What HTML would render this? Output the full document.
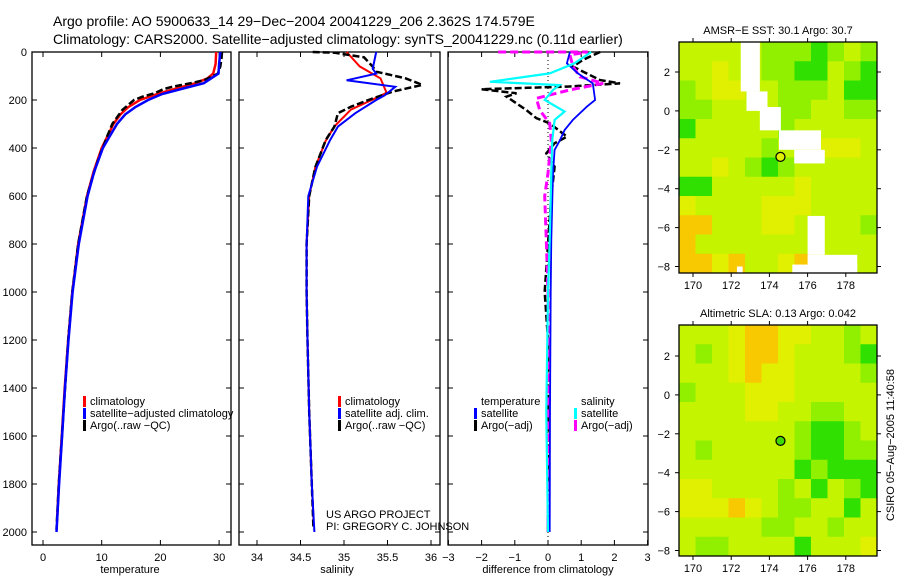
<!DOCTYPE html>
<html><head><meta charset="utf-8"><style>
body{margin:0;background:#fff;}
svg text{font-family:"Liberation Sans",sans-serif;fill:#000;}
</style></head><body>
<svg id="c" width="900" height="580" viewBox="0 0 900 580" xmlns="http://www.w3.org/2000/svg">
<text x="53" y="26" font-size="14">Argo profile: AO 5900633_14 29−Dec−2004 20041229_206 2.362S 174.579E</text>
<text x="53" y="44" font-size="14">Climatology: CARS2000. Satellite−adjusted climatology: synTS_20041229.nc (0.11d earlier)</text>
</svg>
<script>
// ---------- data ----------
const depthTicks=[0,200,400,600,800,1000,1200,1400,1600,1800,2000];
const tempTicks=[0,10,20,30];
const salTicks=["34","34.5","35","35.5","36"];
const diffTicks=[-3,-2,-1,0,1,2,3];

const tClimD=[0,50,90,110,130,150,175,200,230,260,300,350,400,500,600,800,1000,1200,1400,1600,1800,1950];
const tClimV=[29.5,29.4,29.0,28.0,26.0,23.0,19.5,16.5,14.5,13.2,12.0,11.0,10.0,8.6,7.5,6.0,5.0,4.3,3.7,3.2,2.7,2.4];
const tSatD=[0,50,90,130,150,175,200,230,260,300,350,400,500,600,800,1000,1200,1400,1600,1800,2000];
const tSatV=[30.2,30.0,29.9,27.4,24.2,20.3,17.9,15.7,14.0,12.6,11.4,10.2,8.7,7.6,6.1,5.05,4.35,3.75,3.25,2.75,2.3];
const tArgD=[0,30,60,90,117,131,145,155,172,186,200,242,276,300,353,380,422,478,600,800,1000,1200,1500,1800,1990];
const tArgV=[30.5,30.4,30.2,29.8,27.5,25.0,22.0,20.5,19.0,17.0,15.5,13.5,12.5,11.8,10.9,10.5,9.8,9.0,7.5,6.0,5.0,4.3,3.5,2.7,2.3];

const sClimD=[0,60,110,170,200,240,310,370,480,600,800,1000,1200,1500,1800,1950];
const sClimV=[35.03,35.18,35.42,35.49,35.32,35.08,34.89,34.79,34.67,34.6,34.57,34.57,34.58,34.6,34.63,34.65];
const sSatD=[0,70,90,118,145,180,200,255,311,367,478,600,800,1000,1200,1500,1800,2000];
const sSatV=[35.37,35.33,35.37,35.03,35.59,35.47,35.37,35.13,34.93,34.84,34.69,34.59,34.57,34.57,34.58,34.6,34.63,34.66];
const sArgD=[0,3,22,61,82,110,137,165,200,228,255,311,367,480,600,800,1000,1200,1500,1800,1990];
const sArgV=[34.64,34.89,35.23,35.33,35.37,35.71,35.9,35.56,35.28,35.08,34.93,34.89,34.79,34.67,34.6,34.57,34.57,34.58,34.6,34.63,34.65];

const dTSatD=[0,47,89,131,200,228,283,325,367,408,505,783,1000,1500,2000];
const dTSatV=[0.66,0.57,0.9,1.35,1.42,1.17,0.75,0.5,0.36,0.2,0.15,0.1,0.08,0.06,0.05];
const dTArgD=[0,33,61,117,131,144,155,172,186,242,276,297,353,380,422,478,600,800,1000,1200,1500,1800,1990];
const dTArgV=[1.57,1.05,0.75,1.57,2.17,0.57,-2.0,-0.95,-1.25,-0.65,-0.35,0.05,0.57,0.2,-0.05,0.2,0.1,0.0,-0.1,0.0,0.0,0.0,0.0];
const dSSatD=[0,47,89,124,138,158,200,248,283,367,505,783,1000,1500,2000];
const dSSatV=[1.3,0.8,0.05,-1.75,0.35,0.15,-0.1,0.5,0.2,0.13,0.1,0.05,0.0,-0.05,0.0];
const dSArgD=[0,0,12,61,103,131,158,193,242,297,367,505,600,783,1000,1500,2000];
const dSArgV=[-1.5,1.2,0.66,0.75,0.96,1.66,0.66,-0.35,-0.25,0.05,0.1,0.0,-0.1,-0.05,0.0,0.0,0.0];

// map grids: o orange, y yellow, l yellow-green, g green, G bright green
const sstGrid=["lllllgggGglg","llyllggGGlgG","glyyllggglGG","ggllllggllgg","Glllllglllll","lllllgllyyyl","llylgGglllll","GGlllllyllll","yllllyyyllll","oolllyyllllgl","olllllllllll","ooyollyoylll"];
const slaGrid=["lllyooyyllgl","lglyooylllgG","lllyoyyllllg","glllyyyllllll","llllyyllggll","lllllllgGGgl","lglllllgGGgg","lllllllGgGGG","yyllllglGlgG","yyyoylggllGl","lllllggllgl","lggllllGllly"];
const sstWhite=[[172.5,173.5,3.6,1.0],[172.8,173.9,1.0,0.0],[173.5,174.6,0.2,-1.0],[174.5,176.7,-1.0,-2.0],[175.3,176.9,-2.0,-2.7],[176.0,176.9,-5.4,-7.4],[176.0,178.6,-7.4,-8.1],[175.2,178.6,-7.9,-8.4],[172.3,172.6,-8.0,-8.4]];
const mapLonTicks=[170,172,174,176,178];
const mapLatTicks=[2,0,-2,-4,-6,-8];
const argoLon=174.579, argoLat=-2.362;

// ---------- drawing ----------
const svg=document.getElementById('c');
const NS="http://www.w3.org/2000/svg";
function mk(tag,attrs,name,parent){const e=document.createElementNS(NS,tag);for(const k in attrs)e.setAttribute(k,attrs[k]);


(parent||svg).appendChild(e);return e;}
function txt(x,y,s,name,anchor,size){const t=mk('text',{x:x,y:y,'font-size':size||11,'text-anchor':anchor||'start'},name);t.textContent=s;return t;}

const yD=d=>52+d*0.24;
const yTop=52,yBot=545;
const xT=v=>43+v*5.87;
const xS=v=>257+(v-34)*87;
const xDf=v=>548+v*33.2;

function panel(x0,x1,name){mk('rect',{x:x0,y:yTop,width:x1-x0,height:yBot-yTop,fill:'none',stroke:'#000','stroke-width':1.3},name);}
function series(ds,vs,xf,col,w,dash,name){
  let p='';for(let i=0;i<ds.length;i++){p+=(i?'L':'M')+xf(vs[i]).toFixed(1)+','+yD(ds[i]).toFixed(1);}
  const a={d:p,fill:'none',stroke:col,'stroke-width':w};if(dash)a['stroke-dasharray']=dash;mk('path',a,name);}
function depthAxis(x0,x1,labels,pn){
  depthTicks.forEach(d=>{const y=yD(d);
    mk('line',{x1:x0,y1:y,x2:x0+5,y2:y,stroke:'#000'},pn+'-y-tick');
    mk('line',{x1:x1,y1:y,x2:x1-5,y2:y,stroke:'#000'},pn+'-y-tick');
    if(labels)txt(27,y+4,String(d),'depth-tick-label','end',11);});}
function xAxis(vals,xf,labels,pn){vals.forEach((v,i)=>{const x=xf(+v);
  mk('line',{x1:x,y1:yBot,x2:x,y2:yBot-5,stroke:'#000'},pn+'-x-tick');
  mk('line',{x1:x,y1:yTop,x2:x,y2:yTop+5,stroke:'#000'},pn+'-x-tick');
  txt(x,yBot+16,labels[i],pn+'-x-tick-label','middle',11);});}
function legItem(x,y,col,label,name){mk('rect',{x:x,y:y-9,width:3,height:11,fill:col},name+'-swatch');txt(x+7,y,label,name,'start',11);}

// panel 1 temperature
panel(32,231,'temperature-panel');depthAxis(32,231,true,'temperature');
xAxis(tempTicks,xT,tempTicks.map(String),'temperature');
txt(130,573,'temperature','temperature-axis-title','middle',11);
series(tClimD,tClimV,xT,'#f00',2.5,null,'temperature-climatology-line');
series(tArgD,tArgV,xT,'#000',2.5,'7 3','temperature-argo-line');
series(tSatD,tSatV,xT,'#00f',2.5,null,'temperature-satellite-line');
legItem(83,405,'#f00','climatology','legend-climatology');
legItem(83,417,'#00f','satellite−adjusted climatology','legend-satellite');
legItem(83,429,'#000','Argo(..raw −QC)','legend-argo');

// panel 2 salinity
panel(239,440,'salinity-panel');depthAxis(239,440,false,'salinity');
xAxis(salTicks,xS,salTicks,'salinity');
txt(337,573,'salinity','salinity-axis-title','middle',11);
series(sClimD,sClimV,xS,'#f00',2,null,'salinity-climatology-line');
series(sArgD,sArgV,xS,'#000',2.5,'7 3','salinity-argo-line');
series(sSatD,sSatV,xS,'#00f',2,null,'salinity-satellite-line');
legItem(338,405,'#f00','climatology','legend-sal-climatology');
legItem(338,417,'#00f','satellite adj. clim.','legend-sal-satellite');
legItem(338,429,'#000','Argo(..raw −QC)','legend-sal-argo');
txt(326,518,'US ARGO PROJECT','project-credit','start',11);
txt(326,530,'PI: GREGORY C. JOHNSON','pi-credit','start',11);

// panel 3 differences
panel(448,648,'difference-panel');depthAxis(448,648,false,'difference');
xAxis(diffTicks,xDf,diffTicks.map(v=>v<0?'−'+(-v):String(v)),'difference');
txt(548,573,'difference from climatology','difference-axis-title','middle',11);
mk('line',{x1:xDf(0),y1:yTop,x2:xDf(0),y2:yBot,stroke:'#000','stroke-dasharray':'1 3'},'zero-line');
series(dTArgD,dTArgV,xDf,'#000',2.5,'7 3','diff-temp-argo-line');
series(dSArgD,dSArgV,xDf,'#f0f',3,'8 4','diff-sal-argo-line');
series(dTSatD,dTSatV,xDf,'#00f',1.8,null,'diff-temp-satellite-line');
series(dSSatD,dSSatV,xDf,'#0ff',2.2,null,'diff-sal-satellite-line');
txt(481,405,'temperature','legend-temperature-header','start',11);
legItem(474,417,'#00f','satellite','legend-diff-temp-satellite');
legItem(474,429,'#000','Argo(−adj)','legend-diff-temp-argo');
txt(581,405,'salinity','legend-salinity-header','start',11);
legItem(574,417,'#0ff','satellite','legend-diff-sal-satellite');
legItem(574,429,'#f0f','Argo(−adj)','legend-diff-sal-argo');

// maps
const colMap={o:'#f8c800',y:'#e0f000',l:'#c4f400',g:'#90f000',G:'#30e000'};
function drawMap(grid,y0,y1,lat2y,title,white,dotCol,name){
  const x0=679,x1=877;const lonX=l=>693+(l-170)*19.1;const latY=l=>lat2y+(2-l)*19.45;
  const nr=grid.length,nc=12,cw=(x1-x0)/nc,ch=(y1-y0)/nr;
  grid.forEach((row,r)=>{for(let c=0;c<nc;c++){const k=row[c]||'l';
    mk('rect',{x:x0+c*cw,y:y0+r*ch,width:cw+0.5,height:ch+0.5,fill:colMap[k]},name+'-cell');}});
  white.forEach(w=>{const xa=Math.max(x0,lonX(w[0])),xb=Math.min(x1,lonX(w[1])),ya=Math.max(y0,latY(w[2])),yb=Math.min(y1,latY(w[3]));
    mk('rect',{x:xa,y:ya,width:xb-xa,height:yb-ya,fill:'#fff'},name+'-land-mask');});
  mk('rect',{x:x0,y:y0,width:x1-x0,height:y1-y0,fill:'none',stroke:'#000','stroke-width':1.3},name+'-frame');
  mapLonTicks.forEach(l=>{const x=lonX(l);mk('line',{x1:x,y1:y1,x2:x,y2:y1+4,stroke:'#000'},name+'-lon-tick');mk('line',{x1:x,y1:y0,x2:x,y2:y0-4,stroke:'#000'},name+'-lon-tick');txt(x,y1+16,String(l),name+'-lon-label','middle',11);});
  mapLatTicks.forEach(l=>{const y=latY(l);mk('line',{x1:x0,y1:y,x2:x0-4,y2:y,stroke:'#000'},name+'-lat-tick');mk('line',{x1:x1,y1:y,x2:x1+4,y2:y,stroke:'#000'},name+'-lat-tick');txt(x0-9,y+4,l<0?'−'+(-l):String(l),name+'-lat-label','end',11);});
  mk('circle',{cx:lonX(argoLon),cy:latY(argoLat),r:4.5,fill:dotCol,stroke:'#000','stroke-width':1.2},name+'-argo-marker');
  txt((x0+x1)/2,y0-8,title,name+'-title','middle',11);
}
drawMap(sstGrid,42,273,72,'AMSR−E SST: 30.1 Argo: 30.7',sstWhite,'#e0f000','sst-map');
drawMap(slaGrid,325,556,356,'Altimetric SLA: 0.13 Argo: 0.042',[],'#40d800','sla-map');
const ct=txt(0,0,'CSIRO 05−Aug−2005 11:40:58','timestamp','middle',11);
ct.setAttribute('transform','translate(894,445) rotate(-90)');
</script>
</body></html>
